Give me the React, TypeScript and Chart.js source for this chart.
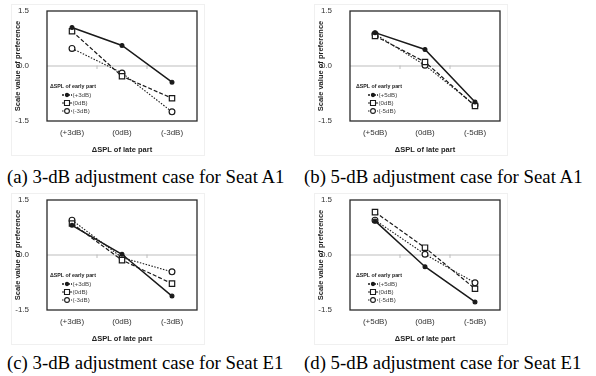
import React, { useEffect, useRef } from "react";
import { Chart, registerables } from "chart.js";

Chart.register(...registerables);

const categories3 = ["(+3dB)", "(0dB)", "(-3dB)"];
const categories5 = ["(+5dB)", "(0dB)", "(-5dB)"];
const legend3 = ["(+3dB)", "(0dB)", "(-3dB)"];
const legend5 = ["(+5dB)", "(0dB)", "(-5dB)"];
const yTicks = [-1.5, 0, 1.5];

const aPlus = [1.05, 0.56, -0.44];
const aZero = [0.95, -0.28, -0.88];
const aMinus = [0.48, -0.19, -1.25];

const bPlus = [0.91, 0.45, -0.98];
const bZero = [0.82, 0.11, -1.09];
const bMinus = [0.87, 0.02, -1.07];

const cPlus = [0.81, 0.02, -1.12];
const cZero = [0.86, -0.14, -0.78];
const cMinus = [0.95, -0.07, -0.46];

const dPlus = [0.93, -0.32, -1.28];
const dZero = [1.17, 0.2, -0.92];
const dMinus = [0.95, 0.02, -0.76];

const INK = "#1a1a1a";
const FONT = "'Liberation Sans', Arial, sans-serif";

const seriesStyles = [
  { pointStyle: "circle", pointRadius: 1.9, borderDash: [] as number[], borderWidth: 1.5, fill: INK },
  { pointStyle: "rect", pointRadius: 3.8, borderDash: [4, 2], borderWidth: 1.2, fill: "#ffffff" },
  { pointStyle: "circle", pointRadius: 2.9, borderDash: [1.5, 1.5], borderWidth: 1.1, fill: "#ffffff" },
];

const decorPlugin = {
  id: "decor",
  beforeDatasetsDraw(chart: any) {
    const { ctx, chartArea, scales } = chart;
    const y0 = scales.y.getPixelForValue(0);
    ctx.save();
    ctx.setLineDash([]);
    ctx.strokeStyle = "#bdbdbd";
    ctx.lineWidth = 1;
    ctx.beginPath();
    ctx.moveTo(chartArea.left, y0);
    ctx.lineTo(chartArea.right, y0);
    const n = chart.data.labels.length;
    for (let i = 0; i < n - 1; i++) {
      const x = (scales.x.getPixelForValue(i) + scales.x.getPixelForValue(i + 1)) / 2;
      ctx.moveTo(x, y0 - 0.5);
      ctx.lineTo(x, y0 + 3);
    }
    ctx.stroke();
    ctx.restore();
  },
  afterDraw(chart: any) {
    const { ctx, chartArea } = chart;
    ctx.save();
    ctx.setLineDash([]);
    ctx.strokeStyle = "#2a2a2a";
    ctx.lineWidth = 1.3;
    ctx.strokeRect(chartArea.left, chartArea.top, chartArea.right - chartArea.left, chartArea.bottom - chartArea.top);

    const opts = chart.options.plugins.decor || {};
    const dx = opts.dx ?? 3;
    const lx = chartArea.left + dx;
    const top = chartArea.top;
    ctx.fillStyle = "#222";
    ctx.textBaseline = "middle";
    ctx.textAlign = "left";
    ctx.font = "bold 5.3px " + FONT;
    ctx.fillText("ΔSPL of early part", lx, top + 76);
    ctx.font = "6.2px " + FONT;
    chart.data.datasets.forEach((ds: any, i: number) => {
      const y = top + 84 + i * 8;
      const sx0 = lx + 12;
      const sx1 = lx + 22;
      const st = seriesStyles[i];
      ctx.strokeStyle = INK;
      ctx.lineWidth = st.borderWidth;
      ctx.setLineDash(i === 0 ? [2, 1] : st.borderDash);
      ctx.beginPath();
      ctx.moveTo(sx0, y);
      ctx.lineTo(sx1, y);
      ctx.stroke();
      ctx.setLineDash([]);
      const cx = (sx0 + sx1) / 2;
      ctx.lineWidth = 1.1;
      ctx.fillStyle = st.fill;
      ctx.beginPath();
      if (st.pointStyle === "rect") {
        const s = 2.5;
        ctx.rect(cx - s, y - s, 2 * s, 2 * s);
      } else {
        ctx.arc(cx, y, i === 0 ? 1.6 : 2.4, 0, Math.PI * 2);
      }
      ctx.fill();
      ctx.stroke();
      ctx.fillStyle = "#444";
      ctx.fillText(ds.label, sx1 + 0.5, y);
    });
    ctx.restore();
  },
};

type PanelProps = {
  left: number;
  top: number;
  labels: string[];
  legendLabels: string[];
  series: number[][];
  legendDx: number;
};

function Panel({ left, top, labels, legendLabels, series, legendDx }: PanelProps) {
  const ref = useRef<HTMLCanvasElement | null>(null);
  useEffect(() => {
    if (!ref.current) return;
    const chart = new Chart(ref.current, {
      type: "line",
      data: {
        labels,
        datasets: series.map((vals, i) => {
          const st = seriesStyles[i];
          return {
            label: legendLabels[i],
            data: vals,
            borderColor: INK,
            backgroundColor: st.fill,
            borderWidth: st.borderWidth,
            borderDash: st.borderDash,
            pointStyle: st.pointStyle as any,
            pointRadius: st.pointRadius,
            pointBorderWidth: 1.2,
            pointBorderColor: INK,
            pointBackgroundColor: st.fill,
            tension: 0,
            fill: false,
          };
        }),
      },
      options: {
        responsive: false,
        animation: false,
        devicePixelRatio: 1,
        layout: { padding: { top: 11, right: 13, left: 0, bottom: 0 } },
        plugins: {
          legend: { display: false },
          tooltip: { enabled: false },
          decor: { dx: legendDx },
        } as any,
        scales: {
          x: {
            type: "category",
            offset: true,
            grid: { display: false, drawTicks: false },
            border: { display: false },
            ticks: {
              color: "#333",
              padding: 7,
              font: { family: FONT, size: 8 },
            },
            title: {
              display: true,
              text: "ΔSPL of late part",
              color: "#222",
              padding: { top: 0, bottom: 5.5 },
              font: { family: FONT, size: 7.5, weight: "bold" },
            },
            afterFit(scale: any) {
              scale.height = 39;
            },
          },
          y: {
            min: -1.5,
            max: 1.5,
            afterBuildTicks(scale: any) {
              scale.ticks = yTicks.map((v) => ({ value: v }));
            },
            grid: { display: false, drawTicks: true, tickLength: 14 },
            border: { display: false },
            ticks: {
              color: "#333",
              padding: 4,
              font: { family: FONT, size: 8 },
              callback: (v: any) => Number(v).toFixed(1),
            },
            title: {
              display: true,
              text: "Scale value of preference",
              color: "#222",
              padding: { top: 13.8, bottom: 0 },
              font: { family: FONT, size: 7.5, weight: "bold" },
            },
            afterFit(scale: any) {
              scale.width = 47;
            },
          },
        },
      },
      plugins: [decorPlugin],
    });
    return () => chart.destroy();
  }, []);
  return (
    <canvas
      ref={ref}
      width={210}
      height={160}
      style={{ position: "absolute", left, top, width: 210, height: 160 }}
    />
  );
}

const captionStyle: React.CSSProperties = {
  position: "absolute",
  fontFamily: "'Liberation Serif', 'Times New Roman', serif",
  fontSize: 18.8,
  lineHeight: "20px",
  color: "#000",
  whiteSpace: "nowrap",
};

const frameStyle: React.CSSProperties = {
  position: "absolute",
  border: "1px solid #f0f0f0",
  width: 192,
  height: 150,
};

export default function App() {
  return (
    <div style={{ position: "absolute", left: 0, top: 0, width: 596, height: 376, background: "#fff", overflow: "hidden" }}>
      <div style={{ ...frameStyle, left: 11, top: 4 }} />
      <div style={{ ...frameStyle, left: 314, top: 4 }} />
      <div style={{ ...frameStyle, left: 11, top: 193 }} />
      <div style={{ ...frameStyle, left: 314, top: 193 }} />
      <Panel left={0} top={0} labels={categories3} legendLabels={legend3} series={[aPlus, aZero, aMinus]} legendDx={3} />
      <Panel left={303} top={0} labels={categories5} legendLabels={legend5} series={[bPlus, bZero, bMinus]} legendDx={6} />
      <Panel left={0} top={189} labels={categories3} legendLabels={legend3} series={[cPlus, cZero, cMinus]} legendDx={3} />
      <Panel left={303} top={189} labels={categories5} legendLabels={legend5} series={[dPlus, dZero, dMinus]} legendDx={6} />
      <div style={{ ...captionStyle, left: 7, top: 167 }}>(a) 3-dB adjustment case for Seat A1</div>
      <div style={{ ...captionStyle, left: 304, top: 167 }}>(b) 5-dB adjustment case for Seat A1</div>
      <div style={{ ...captionStyle, left: 7, top: 353 }}>(c) 3-dB adjustment case for Seat E1</div>
      <div style={{ ...captionStyle, left: 304, top: 353 }}>(d) 5-dB adjustment case for Seat E1</div>
    </div>
  );
}
